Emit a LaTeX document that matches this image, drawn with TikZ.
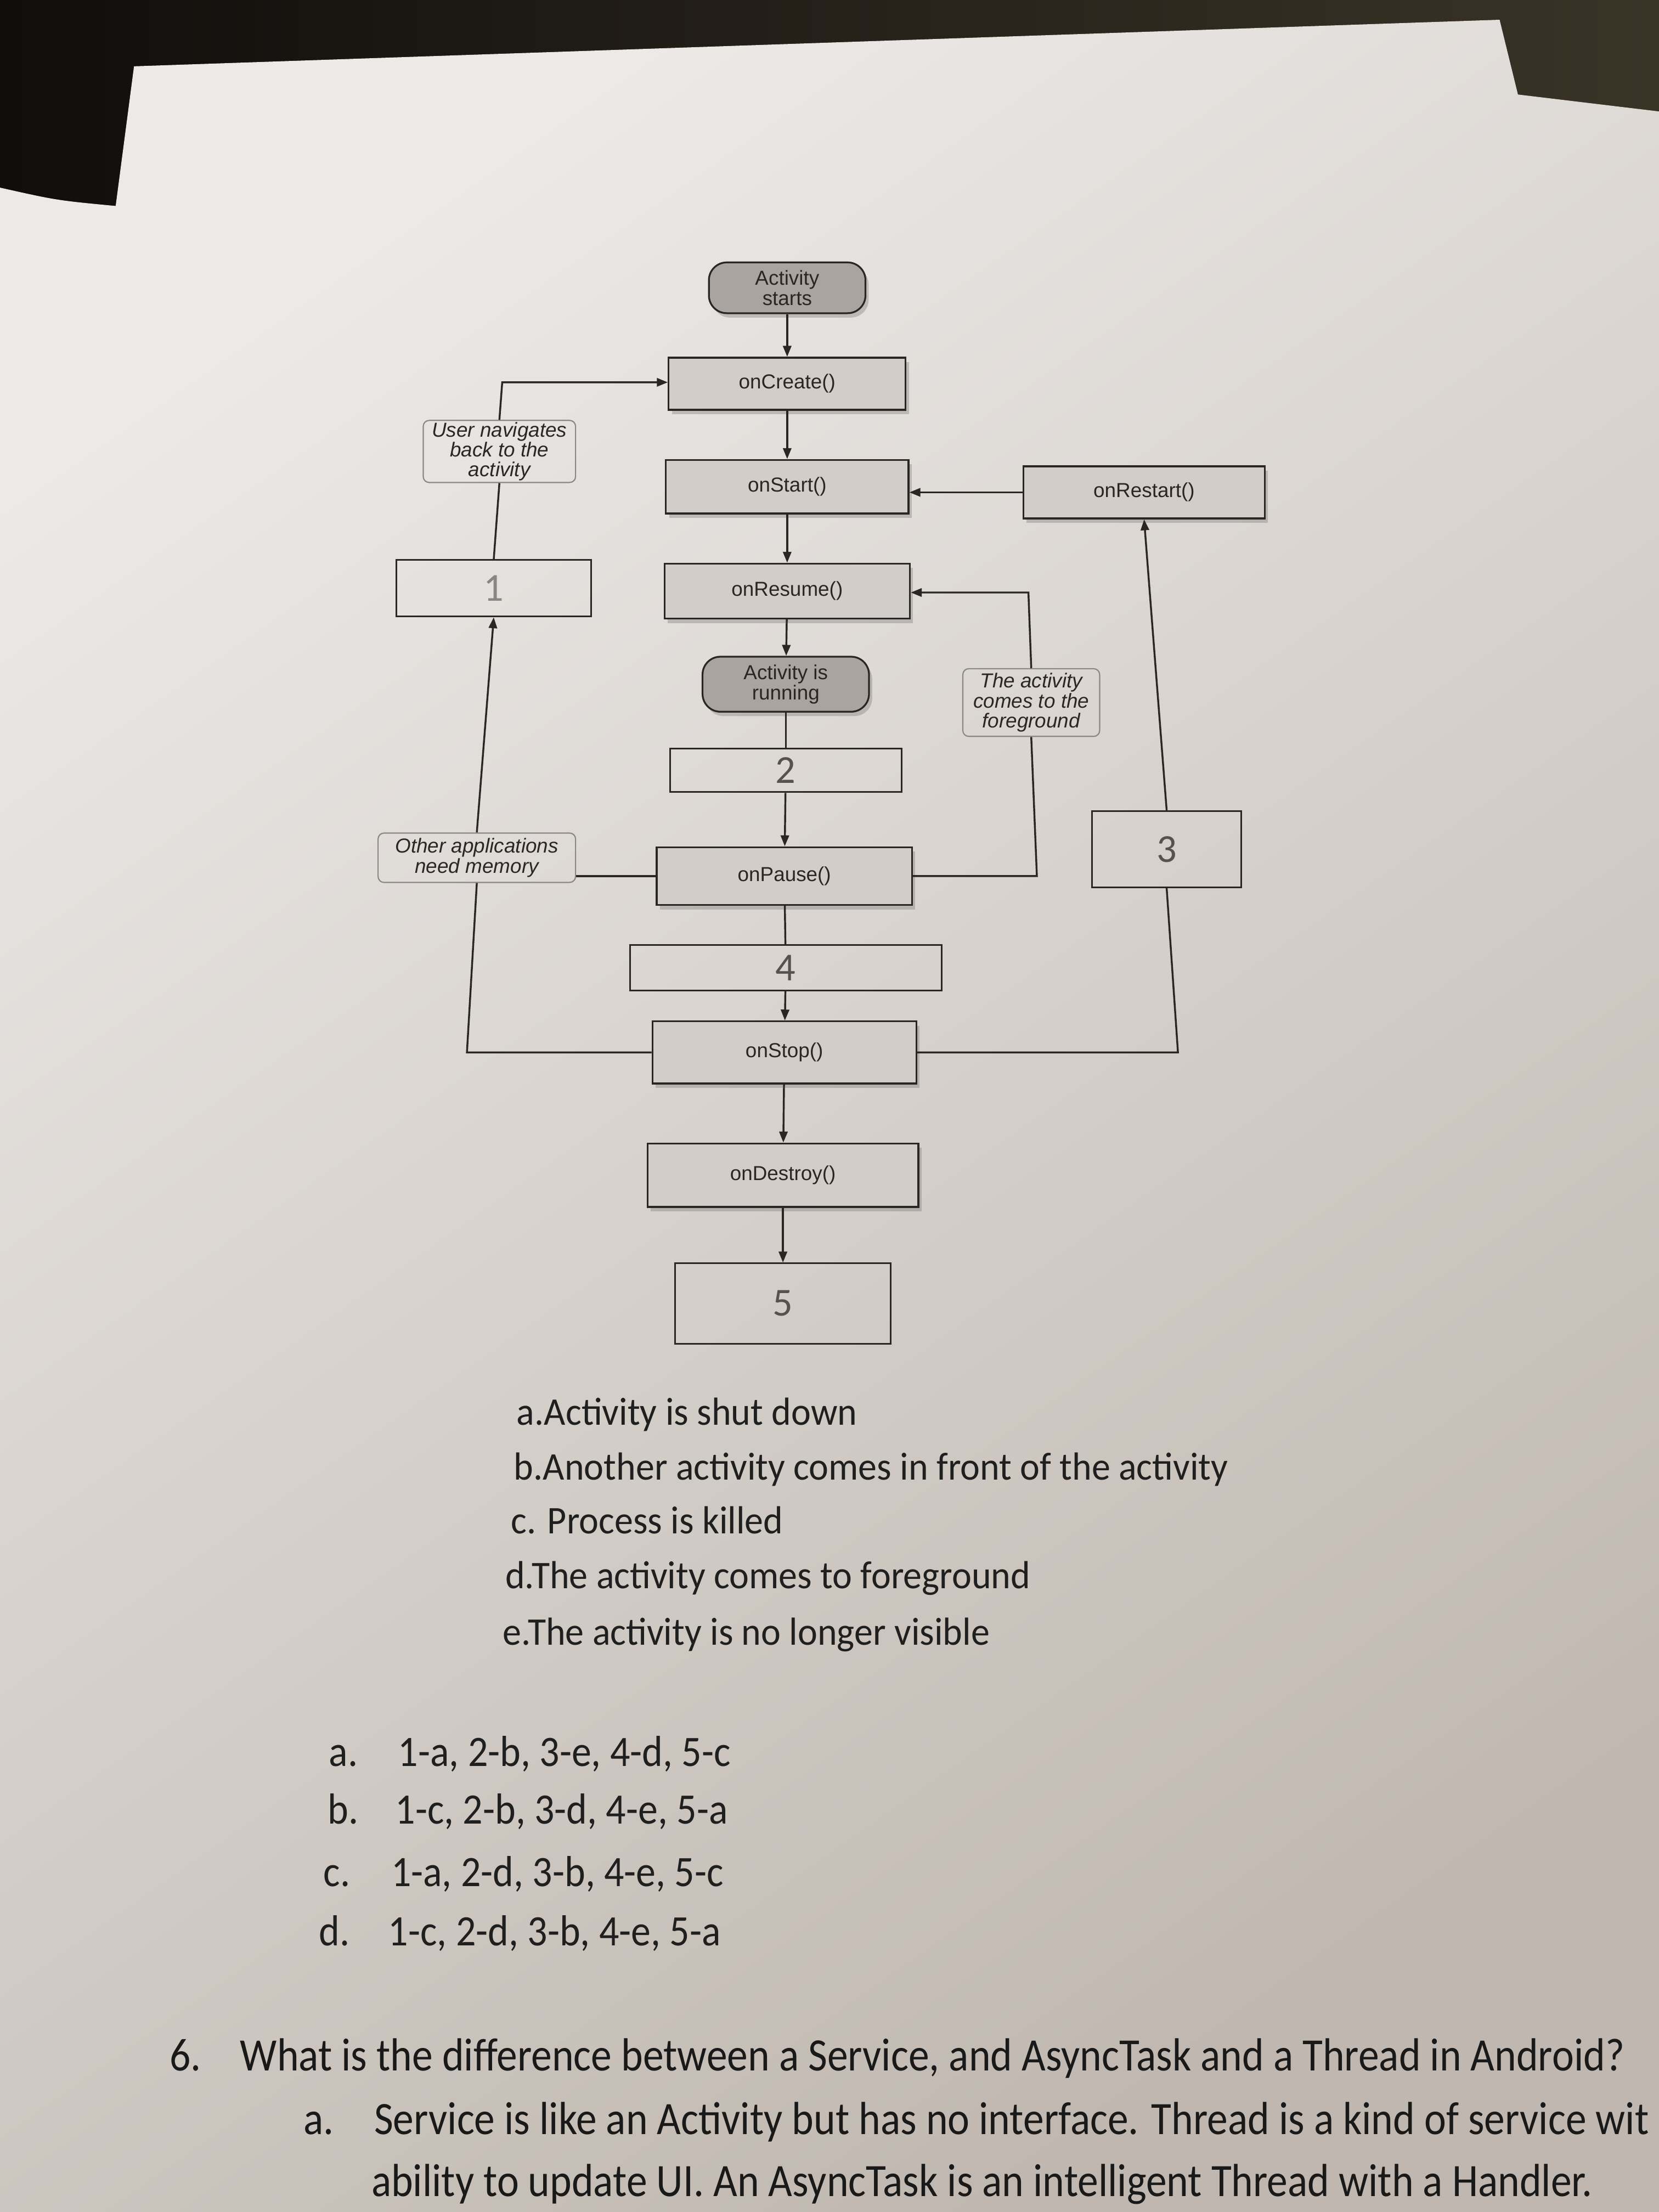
\documentclass[tikz,border=0pt]{standalone}
\usepackage{fontspec}
\usepackage{graphicx}
\setmainfont{Carlito}
\newfontfamily\diagfont{Liberation Sans}
\usetikzlibrary{arrows.meta,shadows}
\newcommand\ux{0.025cm}
\definecolor{paper}{HTML}{E2DFDC}
\definecolor{paperlight}{HTML}{ECE9E7}
\definecolor{paperdark}{HTML}{C0B8B0}
\definecolor{ink}{HTML}{2A2624}
\definecolor{boxfill}{HTML}{D2CDC9}
\definecolor{pillfill}{HTML}{A9A4A0}
\definecolor{numink}{HTML}{555250}
\definecolor{lblborder}{HTML}{8C8782}
\definecolor{darkbg}{HTML}{100D0B}
\definecolor{olivebg}{HTML}{3A3427}
\tikzset{
  conn/.style={draw=ink, line width=0.95pt},
  arr/.style={conn, -{Triangle[length=5.5pt,width=4.2pt]}},
  method/.style={draw=ink, line width=0.9pt, fill=boxfill, inner sep=0pt,
    font=\diagfont\fontsize{10.2}{10.2}\selectfont, text=ink,
    drop shadow={shadow xshift=1.6pt, shadow yshift=-2.2pt, opacity=0.35, fill=black!55}},
  pill/.style={method, fill=pillfill, rounded corners=9pt, align=center},
  numbox/.style={draw=ink, line width=0.8pt, inner sep=0pt,
    font=\fontsize{20}{20}\selectfont, text=numink},
  lbl/.style={draw=lblborder, line width=0.6pt, rounded corners=3pt,
    inner sep=0pt, align=center, text=ink,
    font=\diagfont\itshape\fontsize{10.2}{10}\selectfont},
  listtxt/.style={anchor=base west, inner sep=0pt, text=black!88,
    font=\fontsize{18.8}{18.8}\selectfont},
  anstxt/.style={anchor=base west, inner sep=0pt, text=black!88,
    font=\fontsize{19.9}{19.9}\selectfont},
  qtxt/.style={anchor=base west, inner sep=0pt, text=black!90,
    font=\fontsize{20.9}{20.9}\selectfont}
}
\newcommand\tallA[1]{\scalebox{1}[1.05]{#1}}
\newcommand\tallB[1]{\scalebox{1}[1.1]{#1}}
\newcommand\tallC[1]{\scalebox{1}[1.12]{#1}}
\begin{document}
\begin{tikzpicture}[x=0.025cm, y=-0.025cm]
\useasboundingbox (0,0) rectangle (1176,1568);
% background: dark surroundings and the sheet
\shade[left color=darkbg, right color=olivebg] (0,0) rectangle (1176,160);
\shade[top color=paperlight, middle color=paper, bottom color=paperdark, shading angle=35]
  (95,47) -- (1063,14) -- (1076,67) -- (1176,79) -- (1176,1568)
  -- (0,1568) -- (0,133) .. controls (40,142) .. (82,146) -- cycle;

% nodes of the chart
\node[pill, minimum width=111*\ux, minimum height=36*\ux] (start) at (558,204) {Activity\\starts};
\node[method, minimum width=168*\ux, minimum height=37*\ux] (create) at (558,272) {onCreate()};
\node[method, minimum width=172*\ux, minimum height=38*\ux] (onstart) at (558,345) {onStart()};
\node[method, minimum width=171*\ux, minimum height=37*\ux] (restart) at (811,349) {onRestart()};
\node[lbl, minimum width=108*\ux, minimum height=44*\ux] (usernav) at (354,320) {User navigates\\back to the\\activity};
\node[numbox, minimum width=138*\ux, minimum height=40*\ux, text=numink!70] (n1) at (350,417) {1};
\node[method, minimum width=174*\ux, minimum height=39*\ux] (resume) at (558,419) {onResume()};
\node[pill, minimum width=118*\ux, minimum height=39*\ux] (running) at (557,485) {Activity is\\running};
\node[lbl, minimum width=97*\ux, minimum height=48*\ux] (fg) at (731,498) {The activity\\comes to the\\foreground};
\node[numbox, minimum width=164*\ux, minimum height=31*\ux] (n2) at (557,546) {2};
\node[numbox, minimum width=106*\ux, minimum height=54*\ux] (n3) at (827,602) {3};
\node[lbl, minimum width=140*\ux, minimum height=35*\ux] (other) at (338,608) {Other applications\\need memory};
\node[method, minimum width=181*\ux, minimum height=41*\ux] (pause) at (556,621) {onPause()};
\node[numbox, minimum width=221*\ux, minimum height=32*\ux] (n4) at (557,686) {4};
\node[method, minimum width=187*\ux, minimum height=44*\ux] (stop) at (556,746) {onStop()};
\node[method, minimum width=192*\ux, minimum height=45*\ux] (destroy) at (555,833) {onDestroy()};
\node[numbox, minimum width=153*\ux, minimum height=57*\ux] (n5) at (555,924) {5};

% corner points of the loops
\coordinate (cL) at (331,746);
\coordinate (cTL) at (356,271);
\coordinate (cR1) at (735,621);
\coordinate (cR2) at (729,420);
\coordinate (cR3) at (835,746);

% main column
\draw[arr] (start) -- (create);
\draw[arr] (create) -- (onstart);
\draw[arr] (onstart) -- (resume);
\draw[arr] (resume) -- (running);
\draw[conn] (running) -- (n2);
\draw[arr] (n2) -- (pause);
\draw[conn] (pause) -- (n4);
\draw[arr] (n4) -- (stop);
\draw[arr] (stop) -- (destroy);
\draw[arr] (destroy) -- (n5);
% restart
\draw[arr] (restart.west) -- (restart.west -| onstart.east);
% left loop
\draw[conn] (stop.west) -- (cL) -- (other.south);
\draw[conn] (pause.west) -- (pause.west -| other.east);
\draw[arr] (other.north) -- (n1.south);
\draw[conn] (n1.north) -- (usernav.south);
\draw[arr] (usernav.north) -- (cTL) -- (cTL -| create.west);
% foreground loop
\draw[conn] (pause.east) -- (cR1) -- (fg.south);
\draw[arr] (fg.north) -- (cR2) -- (cR2 -| resume.east);
% stop -> restart loop
\draw[conn] (stop.east) -- (cR3) -- (n3.south);
\draw[arr] (n3.north) -- (restart.south);

% statements
\node[listtxt] (sa) at (366,1010) {\tallA{a.Activity is shut down}};
\node[listtxt] (sb) at (364,1049) {\tallA{b.Another activity comes in front of the activity}};
\node[listtxt] (sc) at (362,1087) {\tallA{c. Process is killed}};
\node[listtxt] (sd) at (358,1126) {\tallA{d.The activity comes to foreground}};
\node[listtxt] (se) at (356,1166) {\tallA{e.The activity is no longer visible}};

% answers
\node[anstxt] (la) at (233,1252) {\tallB{a.}};
\node[anstxt] (aa) at (282,1252) {\tallB{1-a, 2-b, 3-e, 4-d, 5-c}};
\node[anstxt] (lb) at (232,1293) {\tallB{b.}};
\node[anstxt] (ab) at (280,1293) {\tallB{1-c, 2-b, 3-d, 4-e, 5-a}};
\node[anstxt] (lc) at (229,1337) {\tallB{c.}};
\node[anstxt] (ac) at (277,1337) {\tallB{1-a, 2-d, 3-b, 4-e, 5-c}};
\node[anstxt] (ld) at (226,1379) {\tallB{d.}};
\node[anstxt] (ad) at (275,1379) {\tallB{1-c, 2-d, 3-b, 4-e, 5-a}};

% question 6
\node[qtxt] (q6n) at (120,1468) {\tallC{6.}};
\node[qtxt] (q6) at (170,1468) {\tallC{What is the difference between a Service, and AsyncTask and a Thread in Android?}};
\node[qtxt] (q6an) at (215,1513) {\tallC{a.}};
\node[qtxt] (q6a1) at (265,1513) {\tallC{Service is like an Activity but has no interface. Thread is a kind of service wit}};
\node[qtxt] (q6a2) at (263,1557) {\tallC{ability to update UI. An AsyncTask is an intelligent Thread with a Handler.}};
\end{tikzpicture}
\end{document}
